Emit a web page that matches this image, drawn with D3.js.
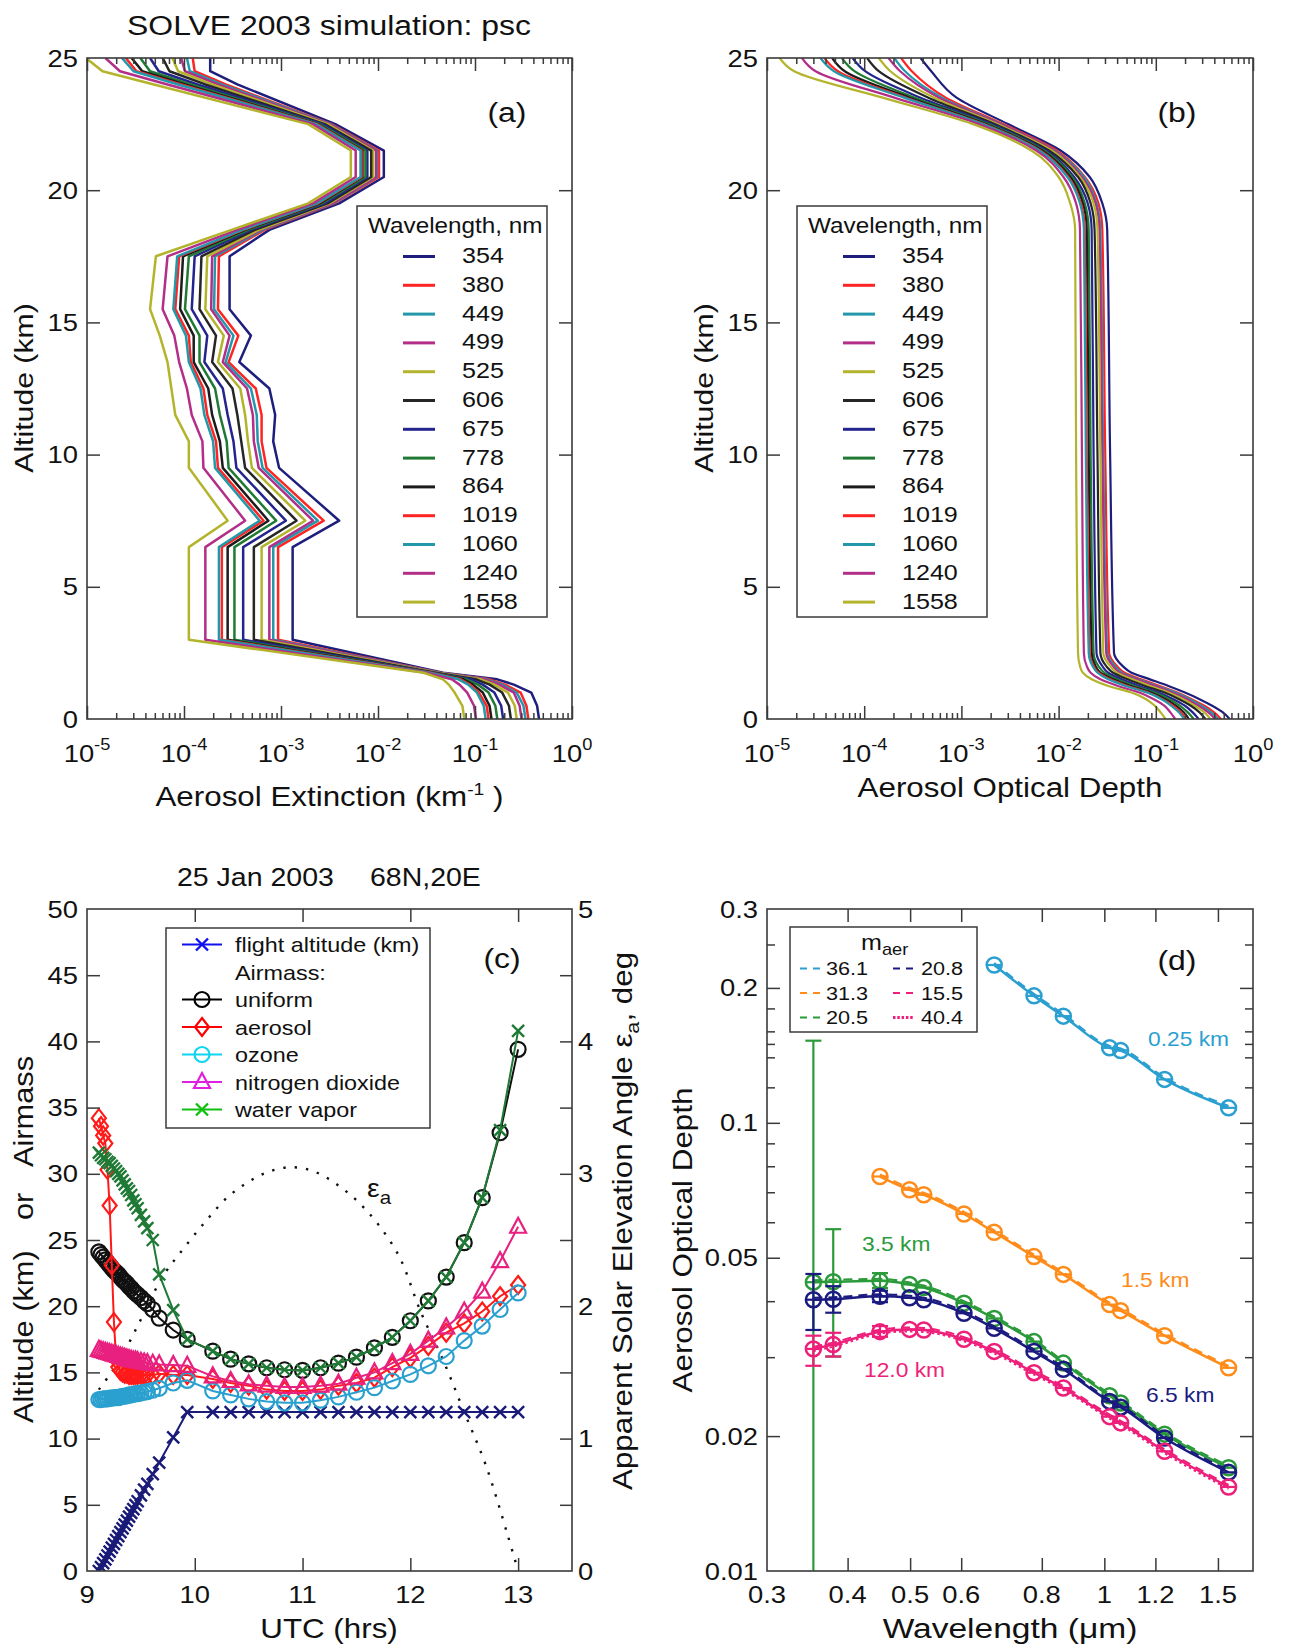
<!DOCTYPE html>
<html><head><meta charset="utf-8">
<script src="https://cdn.jsdelivr.net/npm/d3@7"></script>
<style>html,body{margin:0;padding:0;background:#fff}svg{display:block}</style>
</head><body>
<svg id="fig" width="1290" height="1649" font-family="'Liberation Sans', Arial, Helvetica, sans-serif"></svg>
<script>
// ================= DATA =================
// Panels (a),(b): wavelengths (nm)
const wavelengths = ["354","380","449","499","525","606","675","778","864","1019","1060","1240","1558"];
// (a) altitude vertices (km) and log10 of aerosol extinction (km^-1)
const altExt = [0,0.5,1.0,1.3,1.5,1.75,3.0,6.5,7.5,9.5,10.5,11.5,12.5,13.5,14.5,15.5,17.5,18.5,19.5,20.5,21.5,22.5,24.0,24.5,25.0];
const logExt354  = [-0.34,-0.36,-0.42,-0.60,-0.77,-1.33,-2.88,-2.88,-2.40,-3.02,-3.08,-3.06,-3.12,-3.43,-3.31,-3.53,-3.53,-3.12,-2.40,-1.94,-1.94,-2.44,-3.45,-3.73,-3.73];
const logExt380  = [-0.45,-0.47,-0.53,-0.69,-0.85,-1.36,-3.03,-3.03,-2.56,-3.15,-3.20,-3.20,-3.26,-3.54,-3.44,-3.65,-3.64,-3.17,-2.45,-1.99,-1.99,-2.48,-3.57,-3.89,-3.91];
const logExt449  = [-0.48,-0.50,-0.57,-0.72,-0.88,-1.37,-3.08,-3.08,-2.62,-3.19,-3.24,-3.25,-3.31,-3.57,-3.49,-3.69,-3.68,-3.19,-2.46,-2.01,-2.01,-2.49,-3.61,-3.94,-3.97];
const logExt499  = [-0.52,-0.54,-0.60,-0.75,-0.90,-1.38,-3.12,-3.12,-2.67,-3.23,-3.28,-3.29,-3.35,-3.60,-3.53,-3.72,-3.71,-3.21,-2.47,-2.02,-2.02,-2.50,-3.65,-3.99,-4.03];
const logExt525  = [-0.57,-0.59,-0.66,-0.80,-0.94,-1.39,-3.20,-3.20,-2.75,-3.30,-3.34,-3.37,-3.42,-3.65,-3.59,-3.78,-3.76,-3.23,-2.50,-2.05,-2.05,-2.52,-3.71,-4.06,-4.12];
const logExt606  = [-0.63,-0.65,-0.72,-0.85,-0.99,-1.41,-3.28,-3.28,-2.84,-3.37,-3.41,-3.45,-3.50,-3.71,-3.67,-3.84,-3.82,-3.27,-2.52,-2.07,-2.07,-2.55,-3.78,-4.15,-4.22];
const logExt675  = [-0.71,-0.73,-0.80,-0.92,-1.04,-1.43,-3.39,-3.39,-2.95,-3.46,-3.49,-3.55,-3.60,-3.79,-3.76,-3.92,-3.89,-3.31,-2.55,-2.11,-2.11,-2.57,-3.86,-4.26,-4.35];
const logExt778  = [-0.77,-0.79,-0.86,-0.97,-1.09,-1.44,-3.48,-3.48,-3.05,-3.54,-3.56,-3.63,-3.68,-3.84,-3.84,-3.99,-3.95,-3.34,-2.58,-2.13,-2.13,-2.60,-3.93,-4.35,-4.45];
const logExt864  = [-0.83,-0.85,-0.92,-1.02,-1.12,-1.45,-3.55,-3.55,-3.13,-3.60,-3.63,-3.71,-3.75,-3.90,-3.90,-4.04,-4.01,-3.37,-2.60,-2.16,-2.16,-2.62,-3.99,-4.43,-4.54];
const logExt1019 = [-0.86,-0.88,-0.96,-1.05,-1.15,-1.46,-3.61,-3.61,-3.18,-3.65,-3.67,-3.76,-3.80,-3.93,-3.95,-4.09,-4.05,-3.39,-2.62,-2.17,-2.17,-2.63,-4.03,-4.49,-4.60];
const logExt1060 = [-0.89,-0.91,-0.98,-1.07,-1.17,-1.47,-3.64,-3.64,-3.22,-3.68,-3.70,-3.79,-3.83,-3.95,-3.98,-4.11,-4.07,-3.40,-2.63,-2.18,-2.18,-2.64,-4.06,-4.52,-4.64];
const logExt1240 = [-0.99,-1.01,-1.08,-1.16,-1.24,-1.50,-3.78,-3.78,-3.37,-3.80,-3.81,-3.92,-3.97,-4.05,-4.10,-4.22,-4.17,-3.45,-2.67,-2.23,-2.23,-2.67,-4.17,-4.66,-4.81];
const logExt1558 = [-1.11,-1.13,-1.21,-1.27,-1.33,-1.53,-3.95,-3.95,-3.55,-3.95,-3.95,-4.09,-4.13,-4.17,-4.25,-4.35,-4.29,-3.51,-2.72,-2.28,-2.28,-2.72,-4.31,-4.84,-5.01];
// (b) altitude vertices (km) and log10 of aerosol optical depth
const altAod = [0,0.25,0.5,0.75,1.0,1.25,1.5,1.75,2.0,2.5,10,18.5,19.5,20.5,21.5,22.5,23.5,24.5,25];
const logAod354  = [-0.24,-0.31,-0.42,-0.55,-0.70,-0.87,-1.06,-1.25,-1.34,-1.43,-1.47,-1.50,-1.55,-1.68,-1.98,-2.52,-3.05,-3.31,-3.42];
const logAod380  = [-0.33,-0.40,-0.50,-0.63,-0.78,-0.96,-1.15,-1.32,-1.40,-1.48,-1.52,-1.55,-1.59,-1.73,-2.02,-2.57,-3.16,-3.51,-3.62];
const logAod449  = [-0.36,-0.43,-0.53,-0.65,-0.80,-0.99,-1.18,-1.35,-1.42,-1.50,-1.54,-1.57,-1.61,-1.74,-2.04,-2.59,-3.20,-3.58,-3.69];
const logAod499  = [-0.39,-0.46,-0.56,-0.68,-0.83,-1.01,-1.20,-1.37,-1.44,-1.51,-1.55,-1.58,-1.62,-1.76,-2.05,-2.60,-3.23,-3.63,-3.75];
const logAod525  = [-0.44,-0.50,-0.60,-0.72,-0.87,-1.06,-1.24,-1.40,-1.47,-1.54,-1.57,-1.60,-1.64,-1.78,-2.07,-2.63,-3.28,-3.73,-3.85];
const logAod606  = [-0.49,-0.55,-0.64,-0.76,-0.91,-1.11,-1.29,-1.44,-1.51,-1.57,-1.60,-1.63,-1.67,-1.80,-2.10,-2.66,-3.34,-3.85,-3.97];
const logAod675  = [-0.56,-0.62,-0.70,-0.82,-0.97,-1.17,-1.35,-1.49,-1.55,-1.61,-1.64,-1.66,-1.70,-1.84,-2.13,-2.69,-3.42,-3.99,-4.12];
const logAod778  = [-0.61,-0.67,-0.75,-0.86,-1.01,-1.22,-1.40,-1.53,-1.59,-1.64,-1.67,-1.69,-1.73,-1.86,-2.15,-2.72,-3.48,-4.10,-4.23];
const logAod864  = [-0.66,-0.71,-0.79,-0.90,-1.05,-1.26,-1.44,-1.57,-1.62,-1.66,-1.69,-1.71,-1.75,-1.88,-2.17,-2.75,-3.53,-4.20,-4.33];
const logAod1019 = [-0.69,-0.74,-0.82,-0.93,-1.08,-1.29,-1.47,-1.59,-1.64,-1.68,-1.71,-1.73,-1.77,-1.90,-2.19,-2.77,-3.57,-4.27,-4.41];
const logAod1060 = [-0.71,-0.76,-0.84,-0.94,-1.09,-1.31,-1.49,-1.60,-1.65,-1.69,-1.72,-1.74,-1.78,-1.91,-2.20,-2.78,-3.59,-4.31,-4.45];
const logAod1240 = [-0.80,-0.85,-0.91,-1.02,-1.17,-1.39,-1.57,-1.67,-1.71,-1.74,-1.76,-1.78,-1.82,-1.95,-2.23,-2.82,-3.69,-4.50,-4.64];
const logAod1558 = [-0.90,-0.95,-1.01,-1.10,-1.25,-1.49,-1.66,-1.75,-1.78,-1.80,-1.82,-1.83,-1.88,-2.00,-2.28,-2.88,-3.81,-4.72,-4.87];
const xTickExp = ["-5","-4","-3","-2","-1","0"];

// Panel (c)
const utc = [9.11,9.13,9.15,9.17,9.19,9.21,9.23,9.25,9.27,9.29,9.31,9.33,9.35,9.37,9.39,9.41,9.43,9.45,9.47,9.50,9.53,9.56,9.61,9.67,9.80,9.93,
             10.167,10.333,10.5,10.667,10.833,11.0,11.167,11.333,11.5,11.667,11.833,12.0,12.167,12.333,12.5,12.667,12.833,13.0];
const flightAlt = [0,0.29,0.59,0.88,1.17,1.46,1.76,2.05,2.34,2.63,2.93,3.22,3.51,3.80,4.10,4.39,4.68,4.97,5.27,5.71,6.14,6.58,7.32,8.19,10.09,12.0,
             12,12,12,12,12,12,12,12,12,12,12,12,12,12,12,12,12,12];
const airmassUniform = [24.1,23.9,23.7,23.5,23.3,23.1,22.9,22.7,22.55,22.4,22.2,22.0,21.85,21.7,21.5,21.35,21.15,21.0,20.85,20.65,20.4,20.2,19.75,19.1,18.2,17.5,
             16.6,16.0,15.65,15.35,15.2,15.15,15.35,15.7,16.15,16.85,17.65,18.9,20.4,22.2,24.8,28.2,33.1,39.4];
const airmassAerosol = [34.2,33.6,32.9,32.3,30.3,27.6,23.1,18.8,16.0,15.4,15.1,15.0,14.9,14.9,14.8,14.8,14.8,14.8,14.8,14.8,14.8,14.8,14.8,14.9,14.8,14.8,
             14.5,14.2,14.0,13.7,13.6,13.6,13.7,14.0,14.2,14.6,15.4,16.1,17.0,18.0,18.7,19.6,20.75,21.6];
const airmassOzone = [12.95,12.95,13.0,13.0,13.0,13.05,13.05,13.1,13.1,13.1,13.15,13.2,13.2,13.25,13.3,13.3,13.35,13.4,13.4,13.45,13.5,13.55,13.65,13.8,14.2,14.4,
             13.6,13.3,13.0,12.8,12.7,12.7,12.9,13.15,13.5,13.85,14.35,14.85,15.5,16.2,17.4,18.5,19.75,21.0];
const airmassNO2 = [16.7,16.65,16.6,16.55,16.5,16.45,16.4,16.35,16.3,16.25,16.2,16.15,16.1,16.05,16.0,15.95,15.9,15.9,15.85,15.8,15.75,15.7,15.65,15.6,15.55,15.5,
             14.7,14.35,14.1,14.0,13.9,13.9,14.0,14.15,14.6,15.0,15.7,16.4,17.4,18.4,19.6,21.1,23.4,26.0];
const airmassWater = [31.6,31.4,31.2,31.1,30.9,30.8,30.6,30.4,30.2,30.0,29.8,29.5,29.2,28.9,28.7,28.4,28.0,27.7,27.4,26.9,26.4,25.9,25.0,22.4,19.7,17.5,
             16.6,16.0,15.65,15.35,15.2,15.15,15.35,15.7,16.15,16.85,17.65,18.9,20.4,22.2,24.8,28.2,33.3,40.8];
const utcElev = [9.11,9.3,9.5,9.7,9.9,10.1,10.3,10.5,10.7,10.9,11.1,11.3,11.5,11.7,11.9,12.1,12.3,12.5,12.7,12.9,13.0];
const elevAngle = [1.37,1.59,1.9,2.22,2.44,2.64,2.82,2.94,3.02,3.05,3.02,2.93,2.80,2.62,2.37,1.95,1.6,1.2,0.8,0.28,0.0];
const legendC = ["flight altitude (km)","Airmass:","uniform","aerosol","ozone","nitrogen dioxide","water vapor"];

// Panel (d)
const wlUm = [0.354,0.380,0.449,0.499,0.525,0.606,0.675,0.778,0.864,1.019,1.060,1.240,1.558];
const wl025 = [0.675,0.778,0.864,1.019,1.060,1.240,1.558];
const aod025 = [0.225,0.192,0.173,0.147,0.145,0.125,0.108];
const wl15 = [0.449,0.499,0.525,0.606,0.675,0.778,0.864,1.019,1.060,1.240,1.558];
const aod15 = [0.0759,0.0709,0.0691,0.0626,0.0570,0.0503,0.0459,0.0393,0.0381,0.0335,0.0284];
const aod35 = [0.0441,0.0442,0.0444,0.0436,0.0429,0.0396,0.0366,0.0325,0.0291,0.0246,0.0237,0.0202,0.0170];
const aod65 = [0.0403,0.0404,0.0410,0.0407,0.0403,0.0376,0.0348,0.0309,0.0282,0.0239,0.0232,0.0198,0.0166];
const aod120 = [0.0313,0.0320,0.0342,0.0346,0.0345,0.0329,0.0309,0.0277,0.0256,0.0221,0.0214,0.0185,0.0154];
const errWl = [0.354,0.380,0.449];
const err35Hi = [0.1525,0.0579,0.0462], err35Lo = [0.0095,0.0301,0.0428];
const err65Hi = [0.0460,0.0432,0.0422], err65Lo = [0.0345,0.0377,0.0398];
const err120Hi = [0.0335,0.0340,0.0352], err120Lo = [0.0287,0.0301,0.0333];
const maerLabels = ["36.1","31.3","20.5","20.8","15.5","40.4"];
const altLabelsD = ["0.25 km","1.5 km","3.5 km","6.5 km","12.0 km"];
const xTicksD = [0.3,0.4,0.5,0.6,0.8,1,1.2,1.5];
const yTicksD = [0.01,0.02,0.05,0.1,0.2,0.3];
const yMinorD = [0.03,0.04,0.06,0.07,0.08,0.09,0.12,0.14,0.15,0.16,0.18,0.25];

// ================= STYLE / HELPERS =================
const wlColors = ["#1e1e7c","#ff2424","#2298aa","#b22e88","#b4b42c","#262626","#24248e","#207a34","#1c1c1c","#ff2424","#2298aa","#b22e88","#b4b42c"];
const AX = "#3a3a3a", TXT = "#111";
const SX = 1.14;
const svg = d3.select("#fig");
svg.append("rect").attr("width",1290).attr("height",1649).attr("fill","#fff");

function label(g, x, y, parts, o = {}) {
  const t = g.append("text")
    .attr("transform", `translate(${x},${y})` + (o.rot ? ` rotate(${o.rot})` : "") + ` scale(${o.sx || SX},1)`)
    .attr("font-size", o.size || 24)
    .attr("text-anchor", o.anchor || "start")
    .attr("fill", o.fill || TXT);
  if (typeof parts === "string") parts = [{t: parts}];
  parts.forEach(p => {
    const s = t.append("tspan").text(p.t);
    if (p.dy) s.attr("dy", p.dy);
    if (p.size) s.attr("font-size", p.size);
  });
  return t;
}
function frame(g, x0, x1, y0, y1) {
  g.append("rect").attr("x",x0).attr("y",y0).attr("width",x1-x0).attr("height",y1-y0)
    .attr("fill","none").attr("stroke",AX).attr("stroke-width",1.6);
}
function drawTicks(g, scale, orient, pos, values, len) {
  const mk = {bottom: d3.axisBottom, top: d3.axisTop, left: d3.axisLeft, right: d3.axisRight}[orient];
  const ax = mk(scale).tickValues(values).tickSize(-len).tickSizeOuter(0).tickFormat(() => "");
  const horiz = orient === "bottom" || orient === "top";
  const a = g.append("g").attr("transform", horiz ? `translate(0,${pos})` : `translate(${pos},0)`).call(ax);
  a.select(".domain").remove();
  a.selectAll("text").remove();
  a.selectAll("line").attr("stroke", AX).attr("stroke-width", 1.5);
}
function clip(id, x0, x1, y0, y1) {
  svg.append("clipPath").attr("id", id).append("rect").attr("x",x0).attr("y",y0).attr("width",x1-x0).attr("height",y1-y0);
}

// ================= PANELS (a) & (b) =================
function profilePanel(o) {
  const g = svg.append("g");
  const x = d3.scaleLog().domain([1e-5, 1]).range([o.x0, o.x1]);
  const y = d3.scaleLinear().domain([0, 25]).range([719, 58]);
  clip(o.id, o.x0, o.x1, 58, 719);
  const line = d3.line().x(d => x(Math.pow(10, d[1]))).y(d => y(d[0])).curve(o.curve);
  const lg = g.append("g").attr("clip-path", `url(#${o.id})`);
  o.series.forEach((vals, i) => {
    lg.append("path").datum(o.alts.map((a, j) => [a, vals[j]])).attr("d", line)
      .attr("fill","none").attr("stroke", wlColors[i]).attr("stroke-width", o.lw).attr("stroke-linejoin","round");
  });
  frame(g, o.x0, o.x1, 58, 719);
  const all = x.ticks();
  const isDec = v => Math.abs(Math.log10(v) - Math.round(Math.log10(v))) < 1e-6;
  const dec = all.filter(isDec), minor = all.filter(v => !isDec(v));
  drawTicks(g, x, "bottom", 719, dec, 13);
  drawTicks(g, x, "bottom", 719, minor, 6);
  drawTicks(g, x, "top", 58, dec, 13);
  drawTicks(g, x, "top", 58, minor, 6);
  drawTicks(g, y, "left", o.x0, [5,10,15,20], 13);
  drawTicks(g, y, "right", o.x1, [5,10,15,20], 13);
  [0,5,10,15,20,25].forEach(v => label(g, o.x0 - 9, y(v) + 8.5, String(v), {anchor:"end", size:24}));
  dec.forEach((v, i) => label(g, x(v), 762, [{t:"10"},{t:xTickExp[i], dy:-12, size:16}], {anchor:"middle", size:24}));
  label(g, o.x0 - 54, 388, "Altitude (km)", {rot:-90, anchor:"middle", size:26.5});
  label(g, (o.x0+o.x1)/2, o.xTitleY, o.xTitle, {anchor:"middle", size:27.5});
  label(g, o.labX, 122, o.panel, {anchor:"middle", size:28});
  // legend
  const L = o.legX;
  g.append("rect").attr("x",L).attr("y",206).attr("width",190).attr("height",411)
    .attr("fill","#fff").attr("stroke",AX).attr("stroke-width",1.5);
  label(g, L + 11, 233, "Wavelength, nm", {size:21.3});
  wavelengths.forEach((w, i) => {
    const by = 263 + i * 28.8;
    g.append("line").attr("x1", L+46).attr("x2", L+78).attr("y1", by-6.5).attr("y2", by-6.5)
      .attr("stroke", wlColors[i]).attr("stroke-width", 3);
    label(g, L + 105, by, w, {size:22});
  });
}
profilePanel({id:"clipA", x0:87, x1:572, alts:altExt,
  series:[logExt354,logExt380,logExt449,logExt499,logExt525,logExt606,logExt675,logExt778,logExt864,logExt1019,logExt1060,logExt1240,logExt1558],
  curve:d3.curveLinear, lw:2.5, legX:357, labX:507, panel:"(a)",
  xTitle:[{t:"Aerosol Extinction (km"},{t:"-1",dy:-11,size:17},{t:" )",dy:11}], xTitleY:806});
profilePanel({id:"clipB", x0:767, x1:1253, alts:altAod,
  series:[logAod354,logAod380,logAod449,logAod499,logAod525,logAod606,logAod675,logAod778,logAod864,logAod1019,logAod1060,logAod1240,logAod1558],
  curve:d3.curveMonotoneY, lw:2.2, legX:797, labX:1177, panel:"(b)",
  xTitle:"Aerosol Optical Depth", xTitleY:797});
label(svg, 329, 35, "SOLVE 2003 simulation: psc", {anchor:"middle", size:28});

// ================= PANEL (c) =================
(function(){
  const g = svg.append("g");
  const x0 = 87, x1 = 572, y0 = 909, y1 = 1571;
  const x = d3.scaleLinear().domain([9, 13.5]).range([x0, x1]);
  const y = d3.scaleLinear().domain([0, 50]).range([y1, y0]);
  const y2 = d3.scaleLinear().domain([0, 5]).range([y1, y0]);
  clip("clipC", x0, x1, y0, y1);
  const pg = g.append("g").attr("clip-path","url(#clipC)");

  // solar elevation (dotted)
  pg.append("path").datum(utcElev.map((t,i)=>[t, elevAngle[i]]))
    .attr("d", d3.line().x(d=>x(d[0])).y(d=>y2(d[1])).curve(d3.curveCatmullRom))
    .attr("fill","none").attr("stroke","#111").attr("stroke-width",2.4).attr("stroke-dasharray","2.4,9");

  const mkLine = vals => d3.line().x((d,i)=>x(utc[i])).y(d=>y(d))(vals);
  const cross = (gg, cx, cy, s, c, w) => {
    gg.append("path").attr("d", `M${cx-s},${cy-s}L${cx+s},${cy+s}M${cx-s},${cy+s}L${cx+s},${cy-s}`)
      .attr("stroke", c).attr("stroke-width", w).attr("fill","none");
  };
  const circ = (gg, cx, cy, r, c, w) => gg.append("circle").attr("cx",cx).attr("cy",cy).attr("r",r)
      .attr("fill","none").attr("stroke",c).attr("stroke-width",w);
  const diam = (gg, cx, cy, c, w) => gg.append("path").attr("d", `M${cx},${cy-9}L${cx+7},${cy}L${cx},${cy+9}L${cx-7},${cy}Z`)
      .attr("fill","none").attr("stroke",c).attr("stroke-width",w);
  const tri = (gg, cx, cy, c, w) => gg.append("path").attr("d", `M${cx},${cy-9}L${cx+8},${cy+6}L${cx-8},${cy+6}Z`)
      .attr("fill","none").attr("stroke",c).attr("stroke-width",w);

  const series = [
    {v: flightAlt, c:"#1a1a78", m:"x"},
    {v: airmassUniform, c:"#111111", m:"o"},
    {v: airmassAerosol, c:"#ff1a1a", m:"d"},
    {v: airmassOzone, c:"#2aa0cf", m:"o"},
    {v: airmassNO2, c:"#e8207f", m:"t"},
    {v: airmassWater, c:"#1f7a35", m:"x"}
  ];
  series.forEach(s => {
    pg.append("path").attr("d", mkLine(s.v)).attr("fill","none").attr("stroke", s.c).attr("stroke-width", 2);
    s.v.forEach((v, i) => {
      const cx = x(utc[i]), cy = y(v);
      if (s.m === "x") cross(pg, cx, cy, 6, s.c, 2.4);
      else if (s.m === "o") circ(pg, cx, cy, 7.5, s.c, 2.2);
      else if (s.m === "d") diam(pg, cx, cy, s.c, 2.2);
      else tri(pg, cx, cy, s.c, 2.2);
    });
  });

  frame(g, x0, x1, y0, y1);
  drawTicks(g, x, "bottom", y1, [10,11,12,13], 13);
  drawTicks(g, x, "top", y0, [10,11,12,13], 13);
  drawTicks(g, y, "left", x0, [5,10,15,20,25,30,35,40,45], 13);
  drawTicks(g, y2, "right", x1, [0.5,1,1.5,2,2.5,3,3.5,4,4.5], 12);
  [9,10,11,12,13].forEach(v => label(g, x(v), 1603, String(v), {anchor:"middle", size:24}));
  [0,5,10,15,20,25,30,35,40,45,50].forEach(v => label(g, x0 - 9, y(v) + 8.5, String(v), {anchor:"end", size:24}));
  [0,1,2,3,4,5].forEach(v => label(g, x1 + 6, y2(v) + 8.5, String(v), {size:24}));
  label(g, 329, 1638, "UTC (hrs)", {anchor:"middle", size:27.5});
  label(g, 33, 1423, "Altitude (km)", {rot:-90, size:27});
  label(g, 33, 1220, "or", {rot:-90, size:27});
  label(g, 33, 1167, "Airmass", {rot:-90, size:27});
  label(g, 632, 1490, [{t:"Apparent Solar Elevation Angle ε"},{t:"a",dy:7,size:19},{t:", deg",dy:-7}], {rot:-90, size:27.5});
  label(g, 177, 886, "25 Jan 2003", {size:25});
  label(g, 370, 886, "68N,20E", {size:25});
  label(g, 502, 968, "(c)", {anchor:"middle", size:28});
  label(g, 367, 1197, [{t:"ε"},{t:"a",dy:7,size:18}], {size:25});

  // legend
  const lg = g.append("g");
  lg.append("rect").attr("x",166).attr("y",928).attr("width",264).attr("height",200)
    .attr("fill","#fff").attr("stroke",AX).attr("stroke-width",1.5);
  const legCol = ["#1010ee", null, "#000000", "#ff0000", "#10d4f0", "#e020e0", "#10c010"];
  const legMk = ["x", null, "o", "d", "o", "t", "x"];
  legendC.forEach((t, i) => {
    const by = 952 + i * 27.5, cy = by - 7.5;
    if (legCol[i]) {
      lg.append("line").attr("x1",182).attr("x2",222).attr("y1",cy).attr("y2",cy).attr("stroke",legCol[i]).attr("stroke-width",2);
      if (legMk[i] === "x") cross(lg, 202, cy, 6, legCol[i], 2.4);
      else if (legMk[i] === "o") circ(lg, 202, cy, 7.5, legCol[i], 2.2);
      else if (legMk[i] === "d") diam(lg, 202, cy, legCol[i], 2.2);
      else tri(lg, 202, cy, legCol[i], 2.2);
    }
    label(lg, 235, by, t, {size:20.5});
  });
})();

// ================= PANEL (d) =================
(function(){
  const g = svg.append("g");
  const x0 = 767, x1 = 1253, y0 = 909, y1 = 1571;
  const x = d3.scaleLog().domain([0.3, 1.7]).range([x0, x1]);
  const y = d3.scaleLog().domain([0.01, 0.3]).range([y1, y0]);
  clip("clipD", x0, x1, y0, y1);
  const pg = g.append("g").attr("clip-path","url(#clipD)");
  const line = d3.line().x(d=>x(d[0])).y(d=>y(d[1])).curve(d3.curveMonotoneX);

  const sets = [
    {wl: wl025, v: aod025, c:"#2a9fd0"},
    {wl: wl15, v: aod15, c:"#ff8c1a"},
    {wl: wlUm, v: aod35, c:"#2a9a3a", hi: err35Hi, lo: err35Lo},
    {wl: wlUm, v: aod65, c:"#1a1a80", hi: err65Hi, lo: err65Lo},
    {wl: wlUm, v: aod120, c:"#ee1f7a", hi: err120Hi, lo: err120Lo}
  ];
  sets.forEach((s, k) => {
    const pts = s.wl.map((w,i)=>[w, s.v[i]]);
    pg.append("path").datum(pts).attr("d", line).attr("fill","none").attr("stroke", s.c).attr("stroke-width", 2.5);
    pg.append("path").datum(pts).attr("d", line).attr("fill","none").attr("stroke", s.c).attr("stroke-width", 2)
      .attr("stroke-dasharray", "9,6").attr("transform", "translate(0,-2)");
    if (k === 4) pg.append("path").datum(pts).attr("d", line).attr("fill","none").attr("stroke", s.c).attr("stroke-width", 2)
      .attr("stroke-dasharray", "2.5,3").attr("transform", "translate(0,2)");
    if (s.hi) {
      errWl.forEach((w, i) => {
        const cx = x(w);
        pg.append("line").attr("x1",cx).attr("x2",cx).attr("y1",y(s.hi[i])).attr("y2",y(s.lo[i])).attr("stroke",s.c).attr("stroke-width",2.2);
        [s.hi[i], s.lo[i]].forEach(v => pg.append("line").attr("x1",cx-8).attr("x2",cx+8).attr("y1",y(v)).attr("y2",y(v)).attr("stroke",s.c).attr("stroke-width",2.2));
      });
    }
    pts.forEach(p => {
      const cx = x(p[0]), cy = y(p[1]);
      pg.append("circle").attr("cx",cx).attr("cy",cy).attr("r",7.5).attr("fill","none").attr("stroke",s.c).attr("stroke-width",2.5);
      pg.append("line").attr("x1",cx-7.5).attr("x2",cx+7.5).attr("y1",cy).attr("y2",cy).attr("stroke",s.c).attr("stroke-width",2.2);
    });
  });

  frame(g, x0, x1, y0, y1);
  drawTicks(g, x, "bottom", y1, xTicksD.slice(1), 13);
  drawTicks(g, x, "top", y0, xTicksD.slice(1), 13);
  drawTicks(g, y, "left", x0, yTicksD.slice(1,5), 13);
  drawTicks(g, y, "right", x1, yTicksD.slice(1,5), 13);
  drawTicks(g, y, "left", x0, yMinorD, 8);
  drawTicks(g, y, "right", x1, yMinorD, 8);
  xTicksD.forEach(v => label(g, x(v), 1603, String(v), {anchor:"middle", size:24}));
  yTicksD.forEach(v => label(g, x0 - 9, y(v) + 8.5, String(v), {anchor:"end", size:24}));
  label(g, 1010, 1638, "Wavelength (μm)", {anchor:"middle", size:27.5, sx:1.22});
  label(g, 692, 1240, "Aerosol Optical Depth", {rot:-90, anchor:"middle", size:27.5});
  label(g, 1177, 970, "(d)", {anchor:"middle", size:28});
  // altitude labels
  const labPos = [[1148,1046],[1121,1287],[862,1251],[1146,1402],[864,1377]];
  altLabelsD.forEach((t,i) => label(g, labPos[i][0], labPos[i][1], t, {size:20, fill: sets[i].c}));
  // legend
  g.append("rect").attr("x",790).attr("y",927).attr("width",187).attr("height",105)
    .attr("fill","#fff").attr("stroke",AX).attr("stroke-width",1.5);
  label(g, 861, 950, [{t:"m"},{t:"aer",dy:5,size:16}], {size:22});
  const legC = ["#2a9fd0","#ff8c1a","#2a9a3a","#1a1a80","#ee1f7a","#ee1f7a"];
  maerLabels.forEach((t, i) => {
    const col = i < 3 ? 0 : 1, row = i % 3;
    const by = 975 + row * 24.5, lx = col ? 893 : 800, tx = col ? 921 : 826;
    g.append("line").attr("x1",lx).attr("x2",lx+20).attr("y1",by-6.5).attr("y2",by-6.5)
      .attr("stroke",legC[i]).attr("stroke-width", i===5 ? 3 : 2)
      .attr("stroke-dasharray", i===5 ? "2.5,1.8" : "7,6");
    label(g, tx, by, t, {size:19});
  });
})();
</script>
</body></html>
